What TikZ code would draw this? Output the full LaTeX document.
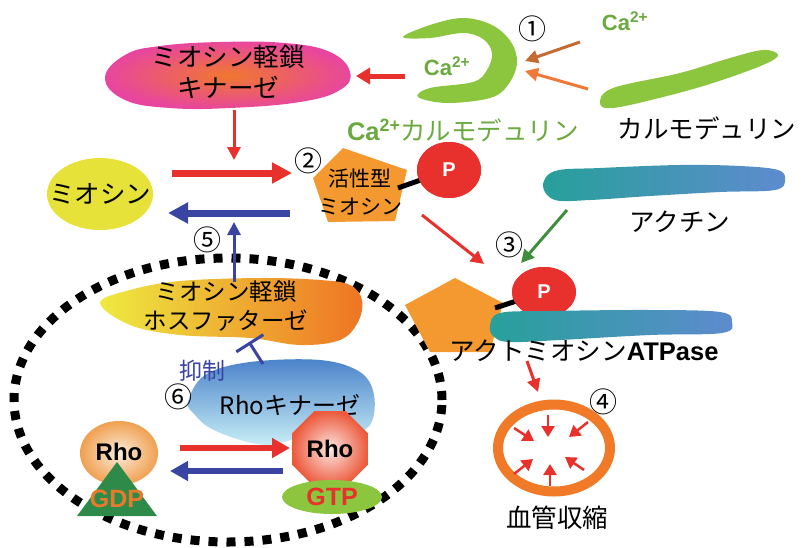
\documentclass[tikz,border=0pt]{standalone}
\usepackage{fontspec}
\setmainfont{Liberation Sans}
\newfontfamily\jpf{Noto Sans CJK JP}
\usetikzlibrary{arrows.meta,shapes.geometric}
\definecolor{cRed}{HTML}{E8312C}
\definecolor{cBlue}{HTML}{3A44A2}
\definecolor{cLime}{HTML}{8CC63F}
\definecolor{cGreenTxt}{HTML}{6BAA3F}
\definecolor{cBrown}{HTML}{C46A32}
\definecolor{cOrangeA}{HTML}{F07838}
\definecolor{cYellow}{HTML}{E6E23A}
\definecolor{cPent}{HTML}{F3992F}
\definecolor{cTeal}{HTML}{27A09A}
\definecolor{cSky}{HTML}{5E8BCF}
\definecolor{cDkGreen}{HTML}{3E8E3E}
\definecolor{cRing}{HTML}{F07A28}
\definecolor{cTri}{HTML}{2E8A48}
\definecolor{cGDP}{HTML}{E87A2E}
\definecolor{cMagenta}{HTML}{E8469E}
\definecolor{cMLCKc}{HTML}{F0782E}
\definecolor{cPhY}{HTML}{EEEA40}
\definecolor{cPhO}{HTML}{EE7424}
\definecolor{cRKt}{HTML}{4A82CA}
\definecolor{cRKb}{HTML}{C8EEF6}
\definecolor{cRhoO}{HTML}{F0A050}
\definecolor{cOct}{HTML}{EC5A3C}
\begin{document}
\begin{tikzpicture}[x=1pt,y=-1pt,
  jp/.style={font=\jpf\fontsize{25.5}{31}\selectfont, inner sep=0pt, align=center},
  jpsmall/.style={font=\jpf\fontsize{21}{28}\selectfont, inner sep=0pt, align=center},
  lat/.style={font=\bfseries\fontsize{24}{28}\selectfont, inner sep=0pt},
  num/.style={font=\jpf\fontsize{28}{28}\selectfont, inner sep=0pt},
  fatarrow/.style={line width=7pt, -{Triangle[length=20pt,width=20pt]}},
  midarrow/.style={line width=5pt, -{Triangle[length=14pt,width=16pt]}},
  thinarrow/.style={line width=3pt, -{Triangle[length=13pt,width=13pt]}},
  tinyarrow/.style={cRed, line width=2.5pt, -{Triangle[length=11pt,width=13pt]}},
]
\useasboundingbox (0,0) rectangle (802,547);

% dashed boundary of the Rho pathway
\node[ellipse, draw=black, line width=9pt, dash pattern=on 9pt off 9pt,
      minimum width=428pt, minimum height=284pt, inner sep=0pt] (rhogroup) at (228,400) {};

% myosin light chain kinase
\shade[inner color=cMLCKc, outer color=cMagenta] plot[smooth cycle, tension=0.7] coordinates
  {(105,78) (125,55) (160,46) (220,42) (285,43) (330,52) (350,72) (340,90) (300,102) (230,108) (170,108) (125,100)};
\node[jp] (mlck) at (228,72) {ミオシン軽鎖\\キナーゼ};
\coordinate (mlckR) at (356,76);
\coordinate (mlckB) at (234,110);

% Ca2+-calmodulin
\fill[cLime] plot[smooth cycle, tension=0.6] coordinates
  {(403,37) (430,25) (463,18) (492,25) (511,42) (517,63) (508,85) (490,98) (447,103) (418,97)
   (430,88) (473,82) (487,70) (492,53) (483,39) (463,33) (430,38)};
\node[lat, cGreenTxt, font=\bfseries\fontsize{22}{26}\selectfont] (caIn) at (447,66) {Ca\textsuperscript{2+}};
\node[jp, cGreenTxt] (cacam) at (463,130) {{\rmfamily\bfseries Ca\textsuperscript{2+}}カルモデュリン};
\coordinate (ck) at (405,76);

% free calmodulin
\fill[cLime] plot[smooth cycle, tension=0.6] coordinates
  {(600,103) (613,88) (680,73) (730,58) (763,50) (778,55) (763,65) (713,83) (663,97) (613,108)};
\node[jp] (cam) at (707,128) {カルモデュリン};
\node[lat, cGreenTxt, font=\bfseries\fontsize{22}{26}\selectfont] (caOut) at (625,21) {Ca\textsuperscript{2+}};

\node[num] (n1) at (532,29) {①};
\coordinate (b1s) at (580,42);  \coordinate (b1e) at (525,61);
\coordinate (b2s) at (588,89);  \coordinate (b2e) at (525,71);
\draw[thinarrow, cBrown] (b1s) -- (b1e);
\draw[thinarrow, cOrangeA] (b2s) -- (b2e);

\draw[midarrow, cRed] (ck) -- (mlckR);

% myosin and activated myosin
\node[ellipse, fill=cYellow, minimum width=106pt, minimum height=72pt, inner sep=0pt] (myo) at (100,194) {};
\node[jp] at (myo) {ミオシン};

\fill[cPent] (343,148) -- (407,170) -- (395,221) -- (328,222) -- (313,178) -- cycle;
\node[jpsmall] (amyo) at (360,192) {活性型\\ミオシン};
\coordinate (amyoR) at (398,188);
\node[ellipse, fill=cRed, minimum width=64pt, minimum height=56pt, inner sep=0pt] (P1) at (449,170) {};
\draw[line width=5pt] (amyoR) -- (P1.center);
\node[ellipse, fill=cRed, minimum width=64pt, minimum height=56pt, inner sep=0pt] at (449,170) {};
\node[lat, white, font=\bfseries\fontsize{20}{24}\selectfont] at (P1) {P};
\node[num] (n2) at (308,161) {②};

\draw[thinarrow, cRed] (mlckB) -- (234,160);
\coordinate (fwS) at (172,173); \coordinate (fwE) at (292,173);
\coordinate (bkS) at (290,213); \coordinate (bkE) at (168,213);
\draw[fatarrow, cRed] (fwS) -- (fwE);
\draw[fatarrow, cBlue] (bkS) -- (bkE);

% actin
\shade[left color=cTeal, right color=cSky] plot[smooth cycle, tension=0.6] coordinates
  {(543,186) (555,171) (600,168) (680,165) (740,166) (778,170) (785,180) (775,190) (720,192) (650,196) (590,200) (555,200)};
\node[jp] (actin) at (680,222) {アクチン};

\coordinate (r3s) at (422,215); \coordinate (r3e) at (484,264);
\coordinate (g3s) at (567,210); \coordinate (g3e) at (521,263);
\draw[thinarrow, cRed] (r3s) -- (r3e);
\draw[thinarrow, cDkGreen] (g3s) -- (g3e);
\node[num] (n3) at (509,245) {③};

% actomyosin ATPase
\fill[cPent] (455,278) -- (503,303) -- (490,352) -- (430,352) -- (405,305) -- cycle;
\node[ellipse, fill=cRed, minimum width=64pt, minimum height=50pt, inner sep=0pt] (P2) at (544,292) {};
\draw[line width=5pt] (495,308) -- (P2.center);
\node[ellipse, fill=cRed, minimum width=64pt, minimum height=50pt, inner sep=0pt] at (544,292) {};
\node[lat, white, font=\bfseries\fontsize{20}{24}\selectfont] at (P2) {P};
\shade[left color=cTeal, right color=cSky] plot[smooth cycle, tension=0.6] coordinates
  {(490,326) (500,313) (550,311) (650,310) (720,312) (732,322) (722,333) (650,335) (560,340) (510,342) (494,337)};
\node[jp] (atpase) at (584,351) {アクトミオシン{\rmfamily\bfseries ATPase}};

% vasoconstriction
\node[ellipse, draw=cRing, line width=10pt, minimum width=112pt, minimum height=87pt, inner sep=0pt] (ring) at (554,448) {};
\draw[thinarrow, cRed] (527,361) -- (538,392);
\node[num] (n4) at (603,402) {④};
\draw[tinyarrow] (514,428) -- (534,441);
\draw[tinyarrow] (548,415) -- (548,437);
\draw[tinyarrow] (588,422) -- (569,437);
\draw[tinyarrow] (514,474) -- (533,459);
\draw[tinyarrow] (550,486) -- (550,464);
\draw[tinyarrow] (584,470) -- (565,457);
\node[jp] (vaso) at (557,518) {血管収縮};

% myosin light chain phosphatase
\shade[left color=cPhY, right color=cPhO] plot[smooth cycle, tension=0.6] coordinates
  {(100,303) (130,290) (180,281) (260,278) (320,280) (350,285) (362,300) (358,322) (340,340) (300,345) (250,338) (180,335) (130,325)};
\node[jp, font=\jpf\fontsize{23.5}{29}\selectfont] (mlcp) at (226,306) {ミオシン軽鎖\\ホスファターゼ};
\coordinate (mlcpT) at (234,282);
\draw[thinarrow, cBlue] (mlcpT) -- (234,222);
\node[num] (n5) at (207,240) {⑤};

% Rho kinase
\shade[top color=cRKt, bottom color=cRKb] plot[smooth cycle, tension=0.6] coordinates
  {(188,402) (205,375) (250,362) (320,360) (360,372) (374,395) (370,425) (345,435) (300,438) (270,445) (240,440) (210,428) (195,415)};
\node[jp, font=\jpf\fontsize{24}{28}\selectfont] (rock) at (290,405) {Rhoキナーゼ};
\coordinate (rockTop) at (263,364);
\coordinate (inh) at (249,342);
\draw[cBlue, line width=3pt, -{Bar[width=32pt,line width=3pt]}] (rockTop) -- (inh);
\node[jp, cBlue, font=\jpf\fontsize{23}{26}\selectfont] (yoku) at (202,371) {抑制};
\node[num] (n6) at (178,397) {⑥};

% Rho-GDP and Rho-GTP
\node[ellipse, inner color=white!80!cRhoO, outer color=cRhoO, minimum width=78pt, minimum height=64pt, inner sep=0pt] (rhoD) at (119,453) {};
\fill[cTri] (77,516) -- (157,516) -- (117,462) -- cycle;
\node[lat] at (119,452) {Rho};
\node[lat, cGDP, font=\bfseries\fontsize{25}{28}\selectfont] (gdp) at (117,499) {GDP};

\node[regular polygon, regular polygon sides=8, inner color=white!85!cOct, outer color=cOct,
      minimum size=82pt, inner sep=0pt] (rhoT) at (330,449) {};
\node[lat] at (rhoT) {Rho};
\node[ellipse, fill=cLime, minimum width=100pt, minimum height=34pt, inner sep=0pt] (gtp) at (332,497) {};
\node[lat, cRed, font=\bfseries\fontsize{25}{28}\selectfont] at (gtp) {GTP};

\coordinate (ga) at (180,448); \coordinate (gb) at (290,448);
\coordinate (gc) at (283,471); \coordinate (gd) at (170,471);
\draw[line width=6pt, cRed, -{Triangle[length=18pt,width=19pt]}] (ga) -- (gb);
\draw[line width=6pt, cBlue, -{Triangle[length=18pt,width=19pt]}] (gc) -- (gd);
\end{tikzpicture}
\end{document}
